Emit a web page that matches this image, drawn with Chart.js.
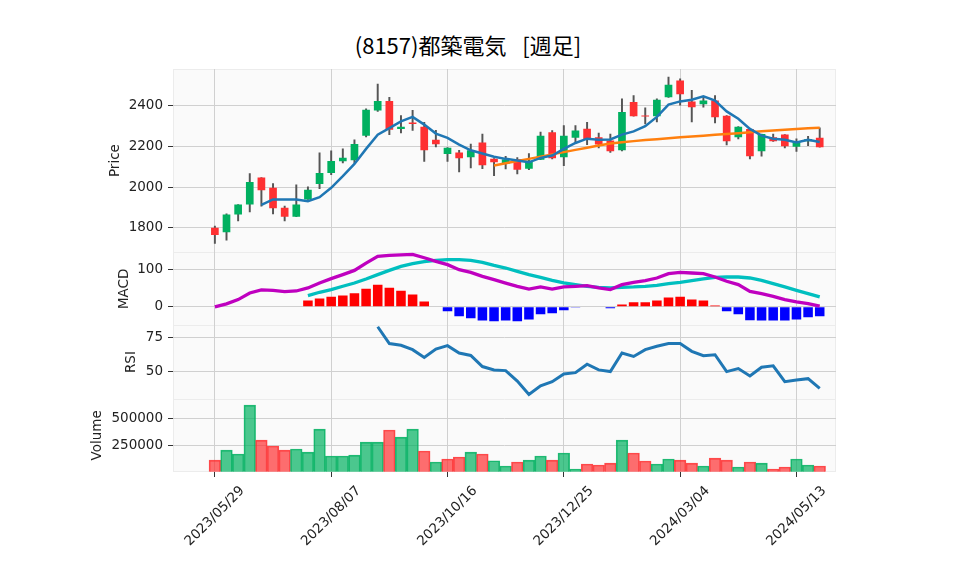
<!DOCTYPE html>
<html>
<head>
<meta charset="utf-8">
<script src="https://cdn.jsdelivr.net/npm/chart.js@4.4.1/dist/chart.umd.min.js"></script>
<style>
  html, body { margin: 0; padding: 0; background: #fff; }
  #wrap { position: relative; width: 958px; height: 575px; }
  #title { position: absolute; left: 0; top: 28px; width: 936px; text-align: center;
           font-family: "Noto Sans CJK JP", sans-serif; font-size: 22px; color: #000;
           white-space: pre; word-spacing: 3px; }
  canvas { position: absolute; left: 0; top: 0; }
</style>
</head>
<body>
<div id="wrap">
  <div id="title">(8157)都築電気  [週足]</div>
  <canvas id="chart" width="958" height="575"></canvas>
</div>
<script>
// weekly data, 2023/05/29 .. 2024/05/27
const tickPos = [0, 10, 20, 30, 40, 50];
const tickLabels = ['2023/05/29', '2023/08/07', '2023/10/16', '2023/12/25', '2024/03/04', '2024/05/13'];

const opens  = [1801,1779,1866,1915,2047,1997,1899,1855,1940,2016,2070,2127,2132,2253,2376,2423,2286,2318,2297,2233,2163,2170,2147,2219,2140,2114,2137,2091,2135,2269,2147,2243,2287,2245,2229,2181,2418,2352,2348,2441,2523,2420,2407,2425,2351,2245,2286,2176,2245,2258,2198,2225,2242];
const closes = [1765,1866,1915,2026,1985,1897,1855,1915,1987,2070,2129,2145,2212,2380,2423,2282,2297,2310,2181,2211,2194,2142,2181,2108,2122,2137,2086,2130,2253,2142,2253,2278,2233,2209,2176,2369,2348,2347,2429,2503,2456,2392,2425,2343,2225,2297,2152,2261,2225,2201,2220,2237,2196];
const highs  = [1809,1869,1915,2067,2047,2018,1907,2011,2002,2168,2178,2188,2233,2384,2506,2441,2351,2377,2318,2279,2194,2181,2211,2260,2140,2152,2145,2165,2271,2278,2302,2302,2318,2266,2260,2433,2449,2389,2434,2540,2532,2475,2441,2449,2351,2297,2286,2261,2261,2258,2237,2250,2291];
const lows   = [1724,1740,1835,1879,1907,1869,1835,1855,1940,1993,2062,2119,2119,2247,2372,2258,2266,2279,2127,2198,2127,2075,2095,2091,2057,2090,2065,2086,2135,2139,2106,2217,2209,2193,2171,2178,2348,2310,2320,2441,2402,2320,2393,2315,2207,2237,2139,2152,2225,2193,2176,2204,2196];

const ma5  = [null,null,null,null,1913,1940,1940,1940,1931,1951,1997,2054,2114,2188,2258,2290,2323,2345,2307,2263,2242,2209,2181,2165,2149,2139,2131,2122,2144,2155,2188,2217,2238,2233,2234,2258,2274,2299,2345,2405,2421,2429,2446,2425,2372,2336,2286,2253,2238,2233,2220,2233,2222];
const ma25 = [null,null,null,null,null,null,null,null,null,null,null,null,null,null,null,null,null,null,null,null,null,null,null,null,
              2106,2117,2128,2139,2150,2161,2172,2183,2194,2205,2214,2220,2226,2231,2235,2240,2245,2249,2253,2257,2261,2265,2270,2274,2278,2282,2285,2289,2292];

const macd   = [0,8,19.5,37.4,45.4,44.5,41,42.7,50.8,64,75.8,86.6,98,117.8,135.7,138.4,140,141,132,122.3,113.4,100,92.8,82,73,64,55.3,48,53.5,48,53.5,55.3,57,50.8,46.3,59.7,66,70.5,77.6,89.2,92.8,91,89.2,80.3,68.7,59.7,41.8,35.6,28.4,19.5,13.4,8.9,1.8];
const signal = [null,null,null,null,null,null,null,null,
                30.2,39.2,46.3,55.3,64.2,75,86.6,98.2,108.9,116,121.4,125,126.8,126.8,125,119.6,111.6,104.4,95.5,86.6,79.4,71.4,64.2,59.7,55.3,52.6,50.8,52.6,53.5,55.3,58,62.4,66,70.5,75,79.4,80.3,80.3,77.6,71.4,62.4,53.5,44.5,35.6,26.7];
const hist   = [null,null,null,null,null,null,null,null,
                16.8,22.2,27.5,30.2,36.5,49,59.7,51.7,43.6,32.9,14.1,-1,-11.6,-25,-30.4,-36.7,-38.6,-36.7,-38.6,-34,-19.8,-17.2,-9,-1.8,0,0,-4,6.3,12.5,12.5,16.8,24.9,27.5,19.5,16.8,3.4,-11.6,-19.8,-35.9,-36.7,-36.7,-36.7,-34,-27.9,-25.2];

const rsi = [null,null,null,null,null,null,null,null,null,null,null,null,null,null,
             83.25,70.75,69.5,66.25,60.5,66.75,69.25,63.75,62,53.75,51.25,50.75,43,33,39.5,42.5,48.25,49.25,55.5,51.25,50,63.75,61.25,66.25,68.75,70.75,70.75,65,61.75,62.5,50,52.25,46.75,53.25,54.25,42.5,43.75,44.75,37.5];

const volume = [109000,203000,166000,625000,297000,241000,203000,213000,184000,400000,147000,147000,156000,278000,278000,391000,325000,400000,194000,91000,119000,137500,184000,166000,103000,
                53000,91000,109000,147000,109000,175000,25000,72000,62500,81000,297000,175000,100000,72000,119000,109000,81000,53000,128000,109000,44000,91000,81000,25000,44000,119000,62500,53000];

const FONT = '"DejaVu Sans", sans-serif';
const FSIZE = 13.5;
const UP = '#00b060', DOWN = '#fe3032';

Chart.defaults.font.family = FONT;
Chart.defaults.font.size = FSIZE;
Chart.defaults.color = '#222';

const pts = arr => arr.map((v, i) => ({x: i, y: v}));
const candleUp = closes.map((c, i) => c >= opens[i]);
const volUp = closes.map((c, i) => i > 0 && c > closes[i - 1]);

function yAxis(min, max, ticks, title, titlePad, weight) {
  return {
    type: 'linear', position: 'left', stack: 'panels', stackWeight: weight,
    min: min, max: max,
    afterBuildTicks: s => { s.ticks = ticks.map(v => ({value: v})); },
    afterFit: s => { s.width = 173; },
    ticks: { padding: 5, color: '#222', callback: v => String(v) },
    grid: { color: '#d0d0d0', tickColor: '#333', tickLength: 5, lineWidth: 1 },
    border: { display: false },
    title: { display: true, text: title, color: '#222', font: {size: FSIZE}, padding: {top: titlePad, bottom: 0} }
  };
}

const panelBg = {
  id: 'panelBg',
  beforeDraw(chart) {
    const {ctx, chartArea: a} = chart;
    ctx.save();
    ctx.fillStyle = '#fafafa';
    ctx.fillRect(a.left, a.top, a.right - a.left, a.bottom - a.top);
    ctx.strokeStyle = '#ececec';
    ctx.lineWidth = 1;
    ['yPrice', 'yMacd', 'yRsi', 'yVol'].forEach(id => {
      const s = chart.scales[id];
      ctx.beginPath();
      ctx.moveTo(a.left, Math.round(s.top) + 0.5);
      ctx.lineTo(a.right, Math.round(s.top) + 0.5);
      ctx.stroke();
    });
    ctx.strokeRect(a.left + 0.5, a.top + 0.5, a.right - a.left - 1, a.bottom - a.top - 1);
    ctx.restore();
  }
};

const xLabels = {
  id: 'xLabels',
  afterDraw(chart) {
    const {ctx} = chart;
    const xs = chart.scales.x;
    ctx.save();
    ctx.font = FSIZE + 'px ' + FONT;
    ctx.fillStyle = '#222';
    ctx.textAlign = 'right';
    ctx.textBaseline = 'middle';
    tickPos.forEach((p, k) => {
      const t = tickLabels[k];
      const L = ctx.measureText(t).width;
      const h = FSIZE;
      const X = xs.getPixelForValue(p);
      const Y0 = xs.top + 12;
      ctx.save();
      ctx.translate(X + 0.354 * L, Y0 + 0.354 * h);
      ctx.rotate(-Math.PI / 4);
      ctx.fillText(t, 0, 0);
      ctx.restore();
    });
    ctx.restore();
  }
};

new Chart(document.getElementById('chart'), {
  type: 'bar',
  data: {
    datasets: [
      { type: 'line', label: 'MA5', data: pts(ma5), yAxisID: 'yPrice', borderColor: '#1f77b4', borderWidth: 2.5, pointRadius: 0, order: 0 },
      { type: 'line', label: 'MA25', data: pts(ma25), yAxisID: 'yPrice', borderColor: '#ff7f0e', borderWidth: 2.5, pointRadius: 0, order: 0 },
      { label: 'body', data: opens.map((o, i) => ({x: i, y: [o, closes[i]]})), yAxisID: 'yPrice', grouped: false,
        backgroundColor: candleUp.map(u => u ? UP : DOWN), borderColor: candleUp.map(u => u ? UP : DOWN), borderWidth: 0,
        barPercentage: 0.66, categoryPercentage: 1, order: 1 },
      { label: 'wick', data: lows.map((l, i) => ({x: i, y: [l, highs[i]]})), yAxisID: 'yPrice', grouped: false,
        backgroundColor: '#555', barThickness: 1.3, order: 2 },
      { type: 'line', label: 'MACD', data: pts(macd), yAxisID: 'yMacd', borderColor: '#bf00bf', borderWidth: 3.3, pointRadius: 0, order: 0 },
      { type: 'line', label: 'Signal', data: pts(signal), yAxisID: 'yMacd', borderColor: '#00bfbf', borderWidth: 3.3, pointRadius: 0, order: 0 },
      { label: 'Hist', data: pts(hist), yAxisID: 'yMacd', grouped: false,
        backgroundColor: hist.map(v => v >= 0 ? '#ff0000' : '#0000ff'),
        barPercentage: 0.82, categoryPercentage: 1, order: 1 },
      { type: 'line', label: 'RSI', data: pts(rsi), yAxisID: 'yRsi', borderColor: '#1f77b4', borderWidth: 3, pointRadius: 0, order: 0 },
      { label: 'Volume', data: pts(volume), yAxisID: 'yVol', grouped: false,
        backgroundColor: volUp.map(u => u ? 'rgba(0,176,96,0.7)' : 'rgba(254,48,50,0.7)'),
        borderColor: volUp.map(u => u ? 'rgba(0,176,96,0.85)' : 'rgba(254,48,50,0.85)'), borderWidth: 1,
        barPercentage: 1, categoryPercentage: 1, order: 1 }
    ]
  },
  options: {
    responsive: false,
    animation: false,
    devicePixelRatio: 1,
    layout: { padding: {top: 69, right: 122, bottom: 0, left: 0} },
    plugins: { legend: {display: false}, tooltip: {enabled: false}, title: {display: false} },
    scales: {
      x: {
        type: 'linear', position: 'bottom', min: -3.6, max: 53.4, offset: false,
        afterBuildTicks: s => { s.ticks = tickPos.map(v => ({value: v})); },
        afterFit: s => { s.height = 103; },
        ticks: { display: false },
        grid: { offset: false, color: '#d0d0d0', tickColor: '#333', tickLength: 5, lineWidth: 1 },
        border: { display: false }
      },
      // stacked panels are laid out bottom-up, so volume comes first
      yVol: yAxis(-3000, 685000, [250000, 500000], 'Volume', 89, 2),
      yRsi: yAxis(29.9, 84.2, [50, 75], 'RSI', 123, 2),
      yMacd: yAxis(-50, 147, [0, 100], 'MACD', 116, 2),
      yPrice: yAxis(1681, 2580, [1800, 2000, 2200, 2400], 'Price', 107, 5)
    }
  },
  plugins: [panelBg, xLabels]
});
</script>
</body>
</html>
